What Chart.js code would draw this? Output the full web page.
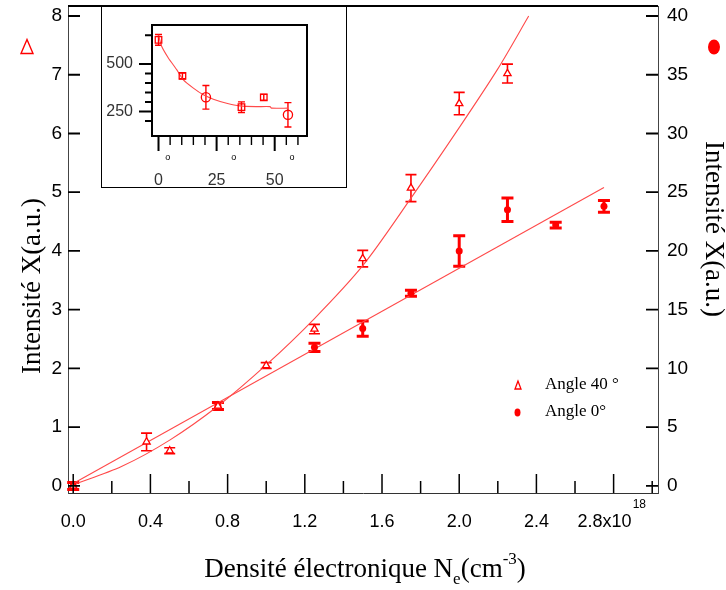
<!DOCTYPE html>
<html><head><meta charset="utf-8">
<script src="https://cdn.jsdelivr.net/npm/chart.js@4.4.1/dist/chart.umd.min.js"></script>
<style>
html,body{margin:0;padding:0;background:#fff;}
#wrap{position:relative;width:726px;height:590px;overflow:hidden;}
#main{position:absolute;left:0;top:0;}
#insetBox{position:absolute;left:101px;top:6px;width:244px;height:180px;border:1px solid #000;background:#fff;}
#inset{display:block;}
</style></head><body>
<div id="wrap">
<canvas id="main" width="726" height="590"></canvas>
<div id="insetBox"><canvas id="inset" width="244" height="180"></canvas></div>
</div>
<script>
// ---------- data ----------
// Angle 40° (left axis, open triangles)
const density40 = [0, 0.38, 0.5, 0.75, 1.0, 1.25, 1.5, 1.75, 2.0, 2.25];
const angle40 = [0.0, 0.75, 0.60, 1.36, 2.05, 2.67, 3.87, 5.07, 6.51, 7.02];
const angle40Err = [0.05, 0.15, 0.05, 0.05, 0.05, 0.08, 0.14, 0.23, 0.19, 0.16];
// Angle 0° (right axis, filled dots)
const density0 = [0, 0.75, 1.25, 1.5, 1.75, 2.0, 2.25, 2.5, 2.75];
const angle0 = [0.0, 6.8, 11.8, 13.4, 16.4, 20.0, 23.5, 22.2, 23.8];
const angle0Err = [0.3, 0.3, 0.35, 0.65, 0.25, 1.3, 1.0, 0.25, 0.5];
// fitted curves
const fit40X = [0, 0.25, 0.5, 0.75, 1.0, 1.25, 1.5, 1.75, 2.0, 2.2, 2.36];
const fit40Y = [0.02, 0.33, 0.78, 1.36, 2.06, 2.85, 3.75, 4.9, 6.1, 7.1, 8.0];
const fit0X = [0, 2.75];
const fit0Y = [0.2, 25.4];
// ticks / labels
const xTicks = [0, 0.4, 0.8, 1.2, 1.6, 2.0, 2.4, 2.8];
const xTickLabels = ['0.0', '0.4', '0.8', '1.2', '1.6', '2.0', '2.4', '2.8x10'];
const xExponent = '18';
const xMinorTicks = [0.2, 0.6, 1.0, 1.4, 1.8, 2.2, 2.6, 3.0];
const yTicks = [0, 1, 2, 3, 4, 5, 6, 7, 8];
const y2Ticks = [0, 5, 10, 15, 20, 25, 30, 35, 40];
const legendLabels = ['Angle 40 °', 'Angle 0°'];
const yTitle = 'Intensité X(a.u.)';
const xTitleParts = ['Densité électronique N', 'e', '(cm', '-3', ')'];
// inset
const insetX = [0, 10.3, 20.4, 35.7, 45.3, 55.7];
const insetY = [626, 437, 325, 273, 325, 233];
const insetErr = [28, 15, 62, 28, 15, 64];
const insetStyles = ['rect', 'rect', 'circle', 'rect', 'rect', 'circle'];
const insetFitX = [0, 1.4, 4.3, 7.9, 10.7, 15, 19.3, 23.6, 29.3, 35, 42, 48, 48.6, 55.7];
const insetFitY = [652, 591, 530, 469, 416, 373, 338, 315, 294, 280, 276, 276, 268, 268];
const insetXTicks = [0, 25, 50];
const insetXMinor = [5, 10, 15, 20, 30, 35, 40, 45, 55, 60];
const insetYTicks = [250, 500];
const insetYMinor = [200, 300, 350, 400, 450, 650];
const insetDegMarks = [4, 32.4, 57.4];

const RED = '#ff0000';
const FIT = '#ff4a4a';
const pts = (xs, ys) => xs.map((x, i) => ({x: x, y: ys[i]}));
const noPad = sc => { sc.paddingTop = 0; sc.paddingBottom = 0; sc.paddingLeft = 0; sc.paddingRight = 0; };

function drawErr(ctx, xs, ys, errs, sx, sy, lw, cap) {
  ctx.save();
  ctx.strokeStyle = RED; ctx.lineWidth = lw; ctx.lineCap = 'butt';
  xs.forEach((x, i) => {
    const px = sx.getPixelForValue(x);
    const t = sy.getPixelForValue(ys[i] + errs[i]);
    const b = sy.getPixelForValue(ys[i] - errs[i]);
    ctx.beginPath();
    ctx.moveTo(px, t); ctx.lineTo(px, b);
    ctx.moveTo(px - cap, t); ctx.lineTo(px + cap, t);
    ctx.moveTo(px - cap, b); ctx.lineTo(px + cap, b);
    ctx.stroke();
  });
  ctx.restore();
}

const mainDecor = {
  id: 'mainDecor',
  beforeDatasetsDraw(chart) {
    const ctx = chart.ctx, s = chart.scales;
    drawErr(ctx, density40, angle40, angle40Err, s.x, s.y, 1.6, 5.5);
    drawErr(ctx, density0, angle0, angle0Err, s.x, s.y2, 3, 6);
  },
  afterDraw(chart) {
    const ctx = chart.ctx, s = chart.scales, ca = chart.chartArea;
    ctx.save();
    ctx.strokeStyle = '#000';
    // top frame
    ctx.lineWidth = 2;
    ctx.beginPath(); ctx.moveTo(ca.left, ca.top); ctx.lineTo(ca.right, ca.top); ctx.stroke();
    // inward ticks
    ctx.lineWidth = 1.8;
    ctx.beginPath();
    yTicks.forEach(v => { const p = s.y.getPixelForValue(v); ctx.moveTo(ca.left, p); ctx.lineTo(ca.left + 12, p); });
    y2Ticks.forEach(v => { const p = s.y2.getPixelForValue(v); ctx.moveTo(ca.right, p); ctx.lineTo(ca.right - 12, p); });
    ctx.stroke();
    ctx.lineWidth = 1.5;
    ctx.beginPath();
    xTicks.forEach(v => { const p = s.x.getPixelForValue(v); ctx.moveTo(p, ca.bottom); ctx.lineTo(p, ca.bottom - 19); });
    xMinorTicks.forEach(v => { const p = s.x.getPixelForValue(v); ctx.moveTo(p, ca.bottom); ctx.lineTo(p, ca.bottom - 12); });
    ctx.stroke();
    // exponent of last x label
    ctx.font = '18px "Liberation Sans"';
    const last = xTickLabels[xTickLabels.length - 1];
    const wl = ctx.measureText(last).width;
    const wf = ctx.measureText(last + '\u2002\u2002').width;
    const cx = s.x.getPixelForValue(xTicks[xTicks.length - 1]);
    ctx.font = '12px "Liberation Sans"';
    ctx.fillStyle = '#000'; ctx.textBaseline = 'middle'; ctx.textAlign = 'left';
    ctx.fillText(xExponent, cx - wf / 2 + wl + 1, 505);
    // legend
    ctx.font = '17px "Liberation Serif"';
    ctx.fillText(legendLabels[0], 545, 385);
    ctx.fillText(legendLabels[1], 545, 412);
    ctx.strokeStyle = RED; ctx.fillStyle = '#fff'; ctx.lineWidth = 1.3;
    ctx.beginPath(); ctx.moveTo(518, 381); ctx.lineTo(515, 389); ctx.lineTo(521, 389); ctx.closePath(); ctx.fill(); ctx.stroke();
    ctx.fillStyle = RED;
    ctx.beginPath(); ctx.ellipse(517.5, 412.5, 3, 4, 0, 0, Math.PI * 2); ctx.fill();
    // axis identification symbols
    ctx.lineWidth = 1.4;
    ctx.beginPath(); ctx.moveTo(27, 39.5); ctx.lineTo(21, 53.5); ctx.lineTo(33, 53.5); ctx.closePath(); ctx.stroke();
    ctx.beginPath(); ctx.ellipse(714, 47, 6, 7.5, 0, 0, Math.PI * 2); ctx.fill();
    // axis titles
    ctx.fillStyle = '#000';
    ctx.font = '27px "Liberation Serif"'; ctx.textAlign = 'center'; ctx.textBaseline = 'middle';
    ctx.save(); ctx.translate(33, 286); ctx.rotate(-Math.PI / 2); ctx.fillText(yTitle, 0, 0); ctx.restore();
    ctx.save(); ctx.translate(713, 229); ctx.rotate(Math.PI / 2); ctx.fillText(yTitle, 0, 0); ctx.restore();
    // x title with subscript / superscript
    const big = '27px "Liberation Serif"', small = '17px "Liberation Serif"';
    const fonts = [big, small, big, small, big];
    const dy = [0, 7, 0, -13, 0];
    let total = 0;
    xTitleParts.forEach((t, i) => { ctx.font = fonts[i]; total += ctx.measureText(t).width; });
    let xx = 365 - total / 2;
    ctx.textAlign = 'left'; ctx.textBaseline = 'alphabetic';
    xTitleParts.forEach((t, i) => { ctx.font = fonts[i]; ctx.fillText(t, xx, 577 + dy[i]); xx += ctx.measureText(t).width; });
    ctx.restore();
  }
};

new Chart(document.getElementById('main'), {
  type: 'scatter',
  data: {
    datasets: [
      {label: legendLabels[0], data: pts(density40, angle40), yAxisID: 'y', pointStyle: 'triangle',
       pointRadius: 4.2, pointBackgroundColor: '#fff', pointBorderColor: RED, pointBorderWidth: 1.3, showLine: false, order: 1},
      {label: legendLabels[1], data: pts(density0, angle0), yAxisID: 'y2', pointStyle: 'circle',
       pointRadius: 3.5, pointBackgroundColor: RED, pointBorderColor: RED, pointBorderWidth: 0, showLine: false, order: 2},
      {label: 'fit 40', data: pts(fit40X, fit40Y), yAxisID: 'y', showLine: true, pointRadius: 0,
       borderColor: FIT, borderWidth: 1.1, tension: 0.3, fill: false, order: 3},
      {label: 'fit 0', data: pts(fit0X, fit0Y), yAxisID: 'y2', showLine: true, pointRadius: 0,
       borderColor: FIT, borderWidth: 1.1, fill: false, order: 4}
    ]
  },
  options: {
    responsive: false, animation: false, events: [],
    layout: {padding: {top: 6, left: 0, right: 0, bottom: 0}},
    plugins: {legend: {display: false}, tooltip: {enabled: false}},
    scales: {
      x: {type: 'linear', position: 'bottom', min: -0.027, max: 3.03,
        afterBuildTicks: sc => { sc.ticks = xTicks.map(v => ({value: v})); },
        afterFit: sc => { sc.height = 97; noPad(sc); },
        grid: {display: true, drawOnChartArea: false, drawTicks: false},
        border: {display: true, color: '#333', width: 1},
        ticks: {padding: 18, color: '#000', font: {family: 'Liberation Sans', size: 18}, maxRotation: 0, autoSkip: false,
          callback: (v, i) => i === xTickLabels.length - 1 ? xTickLabels[i] + '\u2002\u2002' : xTickLabels[i]}
      },
      y: {type: 'linear', position: 'left', min: -0.12, max: 8.17,
        afterBuildTicks: sc => { sc.ticks = yTicks.map(v => ({value: v})); },
        afterFit: sc => { sc.width = 68; noPad(sc); },
        grid: {display: true, drawOnChartArea: false, drawTicks: false},
        border: {display: true, color: '#444', width: 1},
        ticks: {padding: 6, color: '#000', font: {family: 'Liberation Sans', size: 19}, callback: v => String(v)}
      },
      y2: {type: 'linear', position: 'right', min: -0.6, max: 40.85,
        afterBuildTicks: sc => { sc.ticks = y2Ticks.map(v => ({value: v})); },
        afterFit: sc => { sc.width = 68; noPad(sc); },
        grid: {display: true, drawOnChartArea: false, drawTicks: false},
        border: {display: true, color: '#444', width: 1},
        ticks: {padding: 9, color: '#000', font: {family: 'Liberation Sans', size: 19}, callback: v => String(v)}
      }
    }
  },
  plugins: [mainDecor]
});

// ---------- inset ----------
const insetDecor = {
  id: 'insetDecor',
  beforeDatasetsDraw(chart) {
    drawErr(chart.ctx, insetX, insetY, insetErr, chart.scales.x, chart.scales.y, 1.4, 3.5);
  },
  afterDraw(chart) {
    const ctx = chart.ctx, s = chart.scales, ca = chart.chartArea;
    ctx.save();
    ctx.strokeStyle = '#000';
    ctx.lineWidth = 2;
    ctx.strokeRect(ca.left, ca.top, ca.right - ca.left, ca.bottom - ca.top);
    ctx.lineWidth = 2;
    ctx.beginPath();
    insetYTicks.forEach(v => { const p = s.y.getPixelForValue(v); ctx.moveTo(ca.left, p); ctx.lineTo(ca.left - 13, p); });
    insetYMinor.forEach(v => { const p = s.y.getPixelForValue(v); ctx.moveTo(ca.left, p); ctx.lineTo(ca.left - 7, p); });
    insetXTicks.forEach(v => { const p = s.x.getPixelForValue(v); ctx.moveTo(p, ca.bottom); ctx.lineTo(p, ca.bottom + 15); });
    ctx.stroke();
    ctx.lineWidth = 1.4;
    ctx.beginPath();
    insetXMinor.forEach(v => { const p = s.x.getPixelForValue(v); ctx.moveTo(p, ca.bottom); ctx.lineTo(p, ca.bottom + 9); });
    ctx.stroke();
    ctx.fillStyle = '#000'; ctx.font = '9px "Liberation Sans"'; ctx.textAlign = 'center'; ctx.textBaseline = 'middle';
    insetDegMarks.forEach(v => ctx.fillText('o', s.x.getPixelForValue(v), 151));
    ctx.restore();
  }
};

new Chart(document.getElementById('inset'), {
  type: 'scatter',
  data: {
    datasets: [
      {data: pts(insetX, insetY), pointStyle: insetStyles, pointRadius: 4.6, pointBackgroundColor: 'rgba(255,255,255,0)',
       pointBorderColor: RED, pointBorderWidth: 1.3, showLine: false, order: 1},
      {data: pts(insetFitX, insetFitY), showLine: true, pointRadius: 0, borderColor: FIT, borderWidth: 1.1,
       tension: 0.2, fill: false, order: 2}
    ]
  },
  options: {
    responsive: false, animation: false, events: [],
    layout: {padding: {top: 18, right: 39, left: 0, bottom: 0}},
    plugins: {legend: {display: false}, tooltip: {enabled: false}},
    scales: {
      x: {type: 'linear', min: -2.8, max: 63.9,
        afterBuildTicks: sc => { sc.ticks = insetXTicks.map(v => ({value: v})); },
        afterFit: sc => { sc.height = 51; noPad(sc); },
        grid: {display: false, drawTicks: false}, border: {display: false},
        ticks: {padding: 35, color: '#333', font: {family: 'Liberation Sans', size: 16}, maxRotation: 0, autoSkip: false}
      },
      y: {type: 'linear', min: 122, max: 704,
        afterBuildTicks: sc => { sc.ticks = insetYTicks.map(v => ({value: v})); },
        afterFit: sc => { sc.width = 50; noPad(sc); },
        grid: {display: false, drawTicks: false}, border: {display: false},
        ticks: {padding: 19, color: '#333', font: {family: 'Liberation Sans', size: 16}}
      }
    }
  },
  plugins: [insetDecor]
});
</script>
</body></html>
